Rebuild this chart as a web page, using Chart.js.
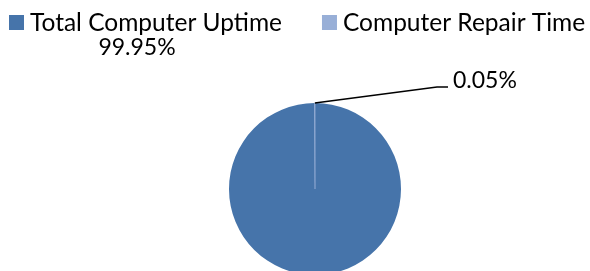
<!DOCTYPE html>
<html>
<head>
<meta charset="utf-8">
<script src="https://cdn.jsdelivr.net/npm/chart.js@4/dist/chart.umd.min.js"></script>
<style>
  html, body { margin: 0; padding: 0; background: #fff; overflow: hidden; }
  #wrap { width: 590px; height: 271px; }
</style>
</head>
<body>
<div id="wrap"><canvas id="myChart"></canvas></div>
<script>
const categories = ["Total Computer Uptime", "Computer Repair Time"];
const values = [99.95, 0.05];
const valueLabels = ["99.95%", "0.05%"];
const sliceColors = ["#4674AA", "#98AFD7"];

const FONT = "Lato";

// move the pie down and right like the original, bottom gets cut off
const placePie = {
  id: "placePie",
  afterLayout(chart) {
    const a = chart.chartArea;
    a.left = 58;
    a.right = 572;
    a.top = 103;
    a.bottom = 275;
  },
};

// Excel style legend in one row, tighter than the built-in one
const topLegend = {
  id: "topLegend",
  afterDraw(chart) {
    const ctx = chart.ctx;
    const ds = chart.data.datasets[0];
    ctx.save();
    ctx.font = "24.5px " + FONT;
    ctx.textBaseline = "middle";
    ctx.textAlign = "left";
    let x = 9;
    chart.data.labels.forEach((lbl, i) => {
      ctx.fillStyle = ds.backgroundColor[i];
      ctx.fillRect(x, 15, 15, 15);
      ctx.fillStyle = "#000";
      ctx.fillText(lbl, x + 21, 23);
      x += 21 + ctx.measureText(lbl).width + 40;
    });
    ctx.restore();
  },
};

// data labels like Excel: one floating, one with a leader line
const pieLabels = {
  id: "pieLabels",
  afterDatasetsDraw(chart) {
    const ctx = chart.ctx;
    const arcs = chart.getDatasetMeta(0).data;
    const cx = arcs[0].x, cy = arcs[0].y, r = arcs[0].outerRadius;
    ctx.save();
    ctx.font = "23px " + FONT;
    ctx.fillStyle = "#000";
    ctx.textBaseline = "middle";

    ctx.textAlign = "center";
    ctx.fillText(valueLabels[0], cx - 178, cy - 141);

    const a = (arcs[1].startAngle + arcs[1].endAngle) / 2;
    const sx = cx + Math.cos(a) * r, sy = cy + Math.sin(a) * r;
    ctx.strokeStyle = "#000";
    ctx.lineWidth = 1.5;
    ctx.beginPath();
    ctx.moveTo(sx, sy);
    ctx.lineTo(cx + 122, cy - 102);
    ctx.lineTo(cx + 133, cy - 102);
    ctx.stroke();

    ctx.textAlign = "left";
    ctx.fillText(valueLabels[1], cx + 138, cy - 108);
    ctx.restore();
  },
};

new Chart(document.getElementById("myChart"), {
  type: "pie",
  data: {
    labels: categories,
    datasets: [
      {
        data: values,
        backgroundColor: sliceColors,
        borderColor: sliceColors,
        borderWidth: [0, 0.6],
        radius: 86,
        clip: false,
      },
    ],
  },
  options: {
    responsive: true,
    maintainAspectRatio: false,
    animation: false,
    events: [],
    plugins: {
      legend: { display: false },
      tooltip: { enabled: false },
    },
  },
  plugins: [placePie, topLegend, pieLabels],
});
</script>
</body>
</html>
